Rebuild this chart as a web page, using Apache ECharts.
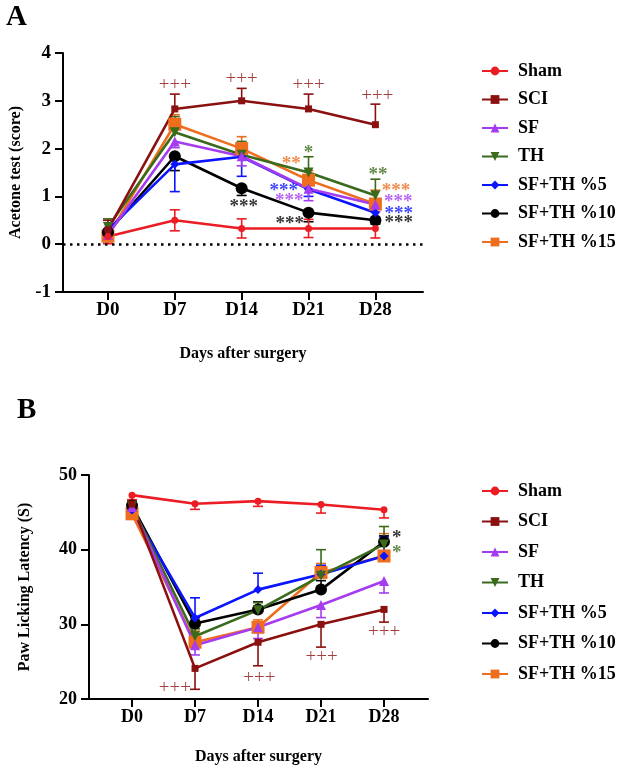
<!DOCTYPE html>
<html>
<head>
<meta charset="utf-8">
<script src="https://cdn.jsdelivr.net/npm/echarts@6/dist/echarts.min.js"></script>
<style>
  html, body { margin: 0; padding: 0; background: #fff; }
  #main { width: 623px; height: 768px; }
</style>
</head>
<body>
<div id="main"></div>
<script>
// days and groups
var days = ['D0', 'D7', 'D14', 'D21', 'D28'];
var groups = ['Sham', 'SCI', 'SF', 'TH', 'SF+TH %5', 'SF+TH %10', 'SF+TH %15'];

// A - acetone test (score), mean per day
var shamA = [0.16, 0.5, 0.33, 0.33, 0.33];
var sciA = [0.3, 2.83, 3.0, 2.83, 2.5];
var sfA = [0.2, 2.15, 1.84, 1.16, 0.83];
var thA = [0.36, 2.34, 1.87, 1.5, 1.02];
var sfth5A = [0.3, 1.67, 1.83, 1.15, 0.66];
var sfth10A = [0.25, 1.84, 1.17, 0.66, 0.5];
var sfth15A = [0.17, 2.51, 2.0, 1.34, 0.84];
// A - error (SEM)
var shamAErr = [0.15, 0.22, 0.2, 0.19, 0.2];
var sciAErr = [0.2, 0.31, 0.26, 0.31, 0.43];
var sfAErr = [0.15, 0.13, 0.2, 0.25, 0.15];
var thAErr = [0.17, 0.33, 0.28, 0.33, 0.34];
var sfth5AErr = [0.15, 0.57, 0.41, 0.15, 0.1];
var sfth10AErr = [0.1, 0.3, 0.15, 0.19, 0.08];
var sfth15AErr = [0.15, 0.2, 0.25, 0.2, 0.29];

// B - paw licking latency (S), mean per day
var shamB = [47.3, 46.15, 46.5, 46.05, 45.35];
var sciB = [46.1, 24.1, 27.6, 30.0, 32.0];
var sfB = [45.7, 27.2, 29.6, 32.6, 35.8];
var thB = [45.8, 28.4, 31.9, 36.5, 40.7];
var sfth5B = [45.3, 30.85, 34.65, 36.7, 39.15];
var sfth10B = [45.9, 30.1, 32.0, 34.65, 41.05];
var sfth15B = [44.8, 27.6, 29.6, 36.95, 39.15];
// B - error (SEM)
var shamBErr = [0.6, 0.75, 0.7, 1.15, 1.1];
var sciBErr = [0.6, 2.8, 3.15, 3.05, 1.7];
var sfBErr = [0.8, 1.3, 1.5, 1.7, 1.6];
var thBErr = [0.8, 1.0, 1.0, 3.5, 2.4];
var sfth5BErr = [0.8, 2.7, 2.2, 1.2, 2.6];
var sfth10BErr = [0.6, 0.8, 1.0, 1.2, 0.8];
var sfth15BErr = [0.8, 1.5, 1.0, 1.2, 3.0];

// which side the error bar is drawn: 0 both, 1 up, -1 down
var errSideA = [0, 1, -1, 1, -1, -1, 1];
var errSideB = [-1, -1, -1, 1, 1, 1, 1];

// significance marks [x (day index), y, text, group]
var marksA = [
    [1.0, 3.35, '+++', 1], [2.0, 3.47, '+++', 1], [3.0, 3.35, '+++', 1], [4.03, 3.13, '+++', 1],
    [3.0, 1.99, '*', 3], [2.74, 1.77, '**', 6], [2.63, 1.19, '***', 4], [2.71, 0.98, '***', 2],
    [2.03, 0.85, '***', 5], [2.72, 0.5, '***', 5],
    [4.04, 1.53, '**', 3], [4.31, 1.19, '***', 6], [4.34, 0.96, '***', 2],
    [4.35, 0.71, '***', 4], [4.35, 0.52, '***', 5]
];
var marksB = [
    [0.68, 21.56, '+++', 1], [2.02, 22.95, '+++', 1], [3.01, 25.77, '+++', 1], [4.0, 29.1, '+++', 1],
    [4.2, 42.1, '*', 5], [4.2, 40.1, '*', 3]
];

var meansA = [shamA, sciA, sfA, thA, sfth5A, sfth10A, sfth15A];
var errsA = [shamAErr, sciAErr, sfAErr, thAErr, sfth5AErr, sfth10AErr, sfth15AErr];
var meansB = [shamB, sciB, sfB, thB, sfth5B, sfth10B, sfth15B];
var errsB = [shamBErr, sciBErr, sfBErr, thBErr, sfth5BErr, sfth10BErr, sfth15BErr];

var colors = ['#ec1c24', '#8b1010', '#a53cf0', '#3a6a1c', '#0a14ff', '#000000', '#ee6e1e'];
var symbols = ['circle', 'rect', 'triangle', 'triangle', 'diamond', 'circle', 'rect'];
var symbolRotate = [0, 0, 0, 180, 0, 0, 0];
var symbolSizes = [7, 7, 10, 10, 9, 12, 13];
var FONT = '"Liberation Serif", "Times New Roman", serif';

var chart = echarts.init(document.getElementById('main'));

function errRender(color) {
    return function (params, api) {
        var x = api.value(0);
        var lo = api.coord([x, api.value(1)]);
        var hi = api.coord([x, api.value(2)]);
        var cap = 5;
        var st = {stroke: color, lineWidth: 1.6};
        var kids = [{type: 'line', shape: {x1: lo[0], y1: lo[1], x2: hi[0], y2: hi[1]}, style: st}];
        if (api.value(3)) kids.push({type: 'line', shape: {x1: lo[0] - cap, y1: lo[1], x2: lo[0] + cap, y2: lo[1]}, style: st});
        if (api.value(4)) kids.push({type: 'line', shape: {x1: hi[0] - cap, y1: hi[1], x2: hi[0] + cap, y2: hi[1]}, style: st});
        return {type: 'group', children: kids};
    };
}

var series = [];
function addPanel(p, means, errs, sides, marks) {
    // draw last group first so Sham ends up on top
    for (var i = groups.length - 1; i >= 0; i--) {
        var ebars = means[i].map(function (m, d) {
            var s = sides[i];
            var e = errs[i][d];
            return [d, s === 1 ? m : m - e, s === -1 ? m : m + e, s === 1 ? 0 : 1, s === -1 ? 0 : 1];
        });
        series.push({
            type: 'custom',
            xAxisIndex: p, yAxisIndex: p,
            renderItem: errRender(colors[i]),
            encode: {x: 0, y: [1, 2]},
            data: ebars,
            z: 2,
            silent: true
        });
        var ln = {
            type: 'line',
            name: groups[i],
            xAxisIndex: p, yAxisIndex: p,
            data: means[i].map(function (m, d) { return [d, m]; }),
            symbol: symbols[i],
            symbolRotate: symbolRotate[i],
            symbolSize: symbolSizes[i],
            color: colors[i],
            lineStyle: {width: 2.6, color: colors[i]},
            itemStyle: {color: colors[i]},
            z: 3,
            animation: false
        };
        if (p === 0 && i === 0) {
            ln.markLine = {
                silent: true,
                symbol: 'none',
                label: {show: false},
                lineStyle: {color: '#000', type: [2.5, 4.5], width: 2.5},
                data: [{yAxis: 0}]
            };
        }
        series.push(ln);
    }
    series.push({
        type: 'scatter',
        xAxisIndex: p, yAxisIndex: p,
        symbolSize: 0,
        z: 5,
        data: marks.map(function (m) {
            var plus = m[2].charAt(0) === '+';
            return {
                value: [m[0], m[1]],
                label: {
                    show: true,
                    position: 'inside',
                    formatter: m[2],
                    color: colors[m[3]],
                    fontFamily: FONT,
                    fontSize: 19,
                    fontWeight: plus ? 'normal' : 'bold',
                    offset: [0, plus ? 1 : 4]
                }
            };
        }),
        animation: false
    });
}
addPanel(0, meansA, errsA, errSideA, marksA);
addPanel(1, meansB, errsB, errSideB, marksB);

function xAxis(p, min, max, size, gap) {
    return {
        type: 'value',
        gridIndex: p,
        min: min, max: max,
        splitLine: {show: false},
        axisLine: {onZero: false, lineStyle: {color: '#000', width: 2}},
        axisTick: {customValues: [0, 1, 2, 3, 4], length: 8, lineStyle: {color: '#000', width: 2}},
        axisLabel: {
            customValues: [0, 1, 2, 3, 4],
            formatter: function (v) { return days[Math.round(v)]; },
            color: '#000', fontFamily: FONT, fontWeight: 'bold', fontSize: size, margin: 9
        },
        name: 'Days after surgery',
        nameLocation: 'middle',
        nameGap: gap,
        nameTextStyle: {color: '#000', fontFamily: FONT, fontWeight: 'bold', fontSize: 16, verticalAlign: 'top'}
    };
}
function yAxis(p, min, max, interval, name, size, gap) {
    return {
        type: 'value',
        gridIndex: p,
        min: min, max: max, interval: interval,
        splitLine: {show: false},
        axisLine: {show: true, onZero: false, lineStyle: {color: '#000', width: 2}},
        axisTick: {show: true, length: 8, lineStyle: {color: '#000', width: 2}},
        axisLabel: {color: '#000', fontFamily: FONT, fontWeight: 'bold', fontSize: size, margin: 12},
        name: name,
        nameLocation: 'middle',
        nameGap: gap,
        nameTextStyle: {color: '#000', fontFamily: FONT, fontWeight: 'bold', fontSize: 16}
    };
}

function legend(top, gap) {
    return {
        data: groups,
        orient: 'vertical',
        left: 476,
        top: top,
        itemWidth: 26,
        itemHeight: 11,
        itemGap: gap,
        selectedMode: false,
        textStyle: {color: '#000', fontFamily: FONT, fontWeight: 'bold', fontSize: 18, padding: [0, 0, 0, 5]}
    };
}

var option = {
    backgroundColor: '#fff',
    animation: false,
    title: [
        {text: 'A', left: 1, top: -2, textStyle: {fontFamily: FONT, fontWeight: 'bold', fontSize: 29, color: '#000'}},
        {text: 'B', left: 12, top: 391, textStyle: {fontFamily: FONT, fontWeight: 'bold', fontSize: 29, color: '#000'}}
    ],
    legend: [legend(57, 10.5), legend(477, 12.5)],
    grid: [
        {left: 62, top: 53, width: 361, height: 239},
        {left: 89, top: 475, width: 339, height: 224}
    ],
    xAxis: [xAxis(0, -0.672, 4.712, 19, 54), xAxis(1, -0.683, 4.698, 18, 50)],
    yAxis: [
        yAxis(0, -1, 4, 1, 'Acetone test (score)', 19, 39),
        yAxis(1, 20, 50, 10, 'Paw Licking Latency (S)', 18, 56)
    ],
    series: series
};
chart.setOption(option);
</script>
</body>
</html>
